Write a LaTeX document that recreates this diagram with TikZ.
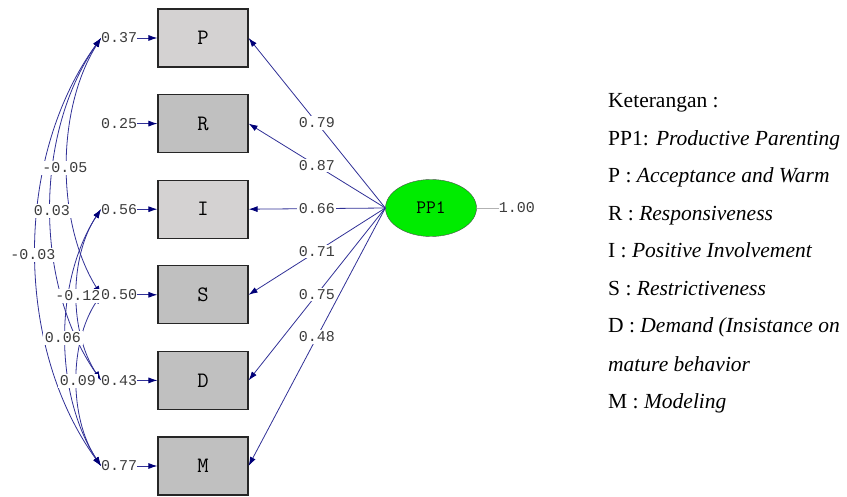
\documentclass[tikz,border=0pt]{standalone}
\usepackage{fontspec}
\setmainfont{Liberation Serif}
\newfontfamily\lisrel{Liberation Mono}
\usetikzlibrary{arrows.meta,positioning,shapes.geometric}
\definecolor{navy}{RGB}{48,48,150}
\definecolor{moerkblaa}{RGB}{0,0,120}
\definecolor{tekst}{RGB}{60,60,60}
\definecolor{lysgraa}{RGB}{212,210,210}
\definecolor{graa}{RGB}{192,192,192}
\definecolor{groen}{RGB}{0,236,0}
\tikzset{
    >={Latex[length=9pt,width=6pt,color=moerkblaa]},
    boks/.style={
           rectangle,
           draw=black!85, line width=1.2pt,
           fill=graa,
           minimum width=90pt,
           minimum height=58pt,
           font=\ttfamily\fontsize{22}{22}\selectfont,
           text centered},
    punkt/.style={
           ellipse,
           draw=black!70, thin,
           fill=groen,
           minimum width=91pt,
           minimum height=57pt,
           inner sep=0pt,
           font=\ttfamily\fontsize{19}{19}\selectfont},
    tal/.style={
           font=\lisrel\fontsize{15}{15}\selectfont,
           text=tekst,
           inner sep=0pt},
    etiket/.style={
           tal,
           fill=white,
           inner sep=1.5pt},
    pil/.style={
           ->,
           navy, line width=0.8pt},
    kov/.style={
           <->,
           navy, line width=0.8pt},
    ket/.style={
           anchor=base west,
           inner sep=0pt,
           font=\fontsize{21.5}{24}\selectfont}
}

\begin{document}
\begin{tikzpicture}[x=1pt, y=-1pt, node distance=26.4pt]
        \useasboundingbox (0,0) rectangle (847,497);

        % indicators
        \node[boks, fill=lysgraa] (p) at (203,38) {P};
        \node[boks, below=of p] (r) {R};
        \node[boks, fill=lysgraa, below=of r] (i) {I};
        \node[boks, below=of i] (s) {S};
        \node[boks, below=of s] (d) {D};
        \node[boks, below=of d] (m) {M};

        % error variances
        \node[tal, left=20pt of p] (ep) {0.37};
        \node[tal, left=20pt of r] (er) {0.25};
        \node[tal, left=20pt of i] (ei) {0.56};
        \node[tal, left=20pt of s] (es) {0.50};
        \node[tal, left=20pt of d] (ed) {0.43};
        \node[tal, left=20pt of m] (em) {0.77};

        \draw[pil] (ep.east) -- (p.west);
        \draw[pil] (er.east) -- (r.west);
        \draw[pil] (ei.east) -- (i.west);
        \draw[pil] (es.east) -- (s.west);
        \draw[pil] (ed.east) -- (d.west);
        \draw[pil] (em.east) -- (m.west);

        % latent variable
        \node[punkt] (pp1) at (431,208) {PP1};
        \node[tal, right=22pt of pp1] (var) {1.00};
        \draw[gray!60, line width=0.8pt] (pp1.east) -- (var.west);

        % loadings
        \draw[pil] (pp1.west) -- node[etiket] {0.79} (p.east);
        \draw[pil] (pp1.west) -- node[etiket] {0.87} (r.east);
        \draw[pil] (pp1.west) -- node[etiket] {0.66} (i.east);
        \draw[pil] (pp1.west) -- node[etiket] {0.71} (s.east);
        \draw[pil] (pp1.west) -- node[etiket] {0.75} (d.east);
        \draw[pil] (pp1.west) -- node[etiket] {0.48} (m.east);

        % error covariances
        \draw[kov] (ep.west) .. controls +(-87,120) and +(-87,-120) .. (em.west);
        \draw[kov] (ep.west) .. controls +(-67,96) and +(-67,-96) .. (ed.west);
        \draw[kov] (ep.west) .. controls +(-45,72) and +(-45,-72) .. (es.west);
        \draw[kov] (ei.west) .. controls +(-47,72) and +(-47,-72) .. (em.west);
        \draw[kov] (ei.west) .. controls +(-32,48) and +(-32,-48) .. (ed.west);
        \draw[kov] (es.west) .. controls +(-32,48) and +(-32,-48) .. (em.west);

        \node[etiket] (c1) at (33,255) {-0.03};
        \node[etiket] (c2) at (52,211) {0.03};
        \node[etiket] (c3) at (65,168) {-0.05};
        \node[etiket] (c4) at (63,338) {0.06};
        \node[etiket] (c5) at (78,296) {-0.12};
        \node[etiket] (c6) at (78,381) {0.09};

        % legend
        \node[ket] (k0) at (608,108) {Keterangan :};
        \node[ket] (k1) at (608,146) {PP1: \textit{Productive Parenting}};
        \node[ket] (k2) at (608,183) {P : \textit{Acceptance and Warm}};
        \node[ket] (k3) at (608,221) {R : \textit{Responsiveness}};
        \node[ket] (k4) at (608,258) {I : \textit{Positive Involvement}};
        \node[ket] (k5) at (608,296) {S : \textit{Restrictiveness}};
        \node[ket] (k6) at (608,333) {D : \textit{Demand (Insistance on}};
        \node[ket] (k7) at (608,371) {\textit{mature behavior}};
        \node[ket] (k8) at (608,409) {M : \textit{Modeling}};
\end{tikzpicture}
\end{document}
